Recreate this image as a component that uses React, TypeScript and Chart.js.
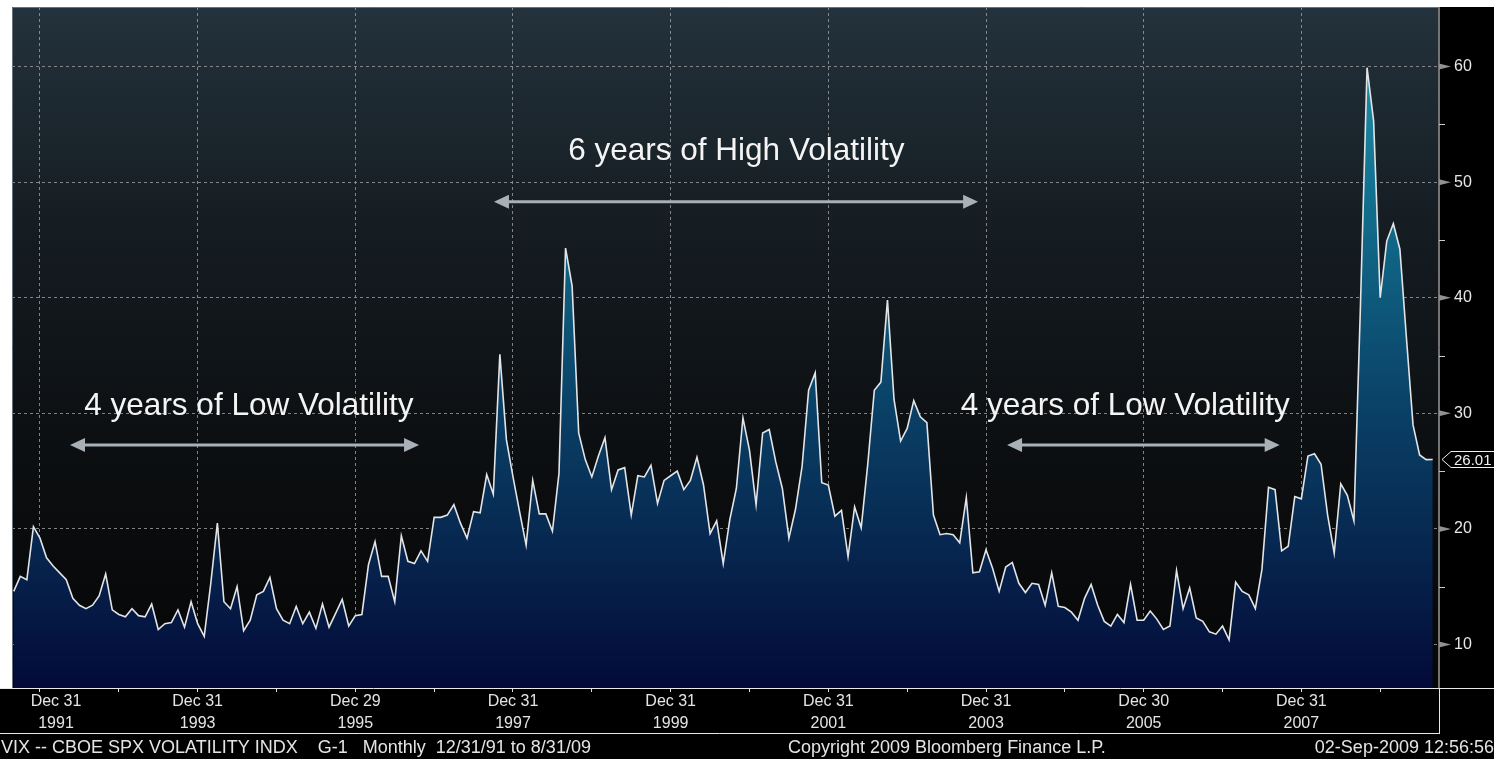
import React, { useEffect, useRef } from "react";
import { Chart, registerables } from "chart.js";

Chart.register(...registerables);

// Monthly VIX closes, Aug 1991 .. Aug 2009 (index 0 = Aug 1991)
const vix1991: number[] = [14.6, 15.9, 15.6, 20.2, 19.2];
const vix1992: number[] = [17.5, 16.8, 16.2, 15.6, 14.0, 13.4, 13.1, 13.4, 14.2, 16.1, 13.0, 12.6];
const vix1993: number[] = [12.4, 13.1, 12.5, 12.4, 13.5, 11.3, 11.8, 11.9, 13.0, 11.5, 13.7, 11.8];
const vix1994: number[] = [10.7, 15.3, 20.5, 13.7, 13.1, 15.0, 11.2, 12.1, 14.3, 14.6, 15.8, 13.1];
const vix1995: number[] = [12.1, 11.8, 13.3, 11.8, 12.8, 11.4, 13.5, 11.5, 12.7, 13.9, 11.6, 12.5];
const vix1996: number[] = [12.6, 16.9, 18.9, 15.9, 15.9, 13.7, 19.4, 17.2, 17.0, 18.1, 17.2, 21.0];
const vix1997: number[] = [21.0, 21.2, 22.1, 20.5, 19.2, 21.5, 21.4, 24.7, 23.0, 35.1, 27.7, 24.5];
const vix1998: number[] = [21.5, 18.6, 24.2, 21.3, 21.3, 19.8, 24.8, 44.3, 41.0, 28.3, 26.0, 24.5];
const vix1999: number[] = [26.3, 27.9, 23.4, 25.1, 25.3, 21.2, 24.6, 24.5, 25.5, 22.2, 24.2, 24.6];
const vix2000: number[] = [25.0, 23.4, 24.2, 26.2, 23.8, 19.6, 20.7, 17.0, 20.8, 23.5, 29.6, 26.8];
const vix2001: number[] = [22.1, 28.3, 28.6, 25.8, 23.5, 19.2, 21.7, 25.4, 32.0, 33.5, 24.0, 23.8];
const vix2002: number[] = [21.1, 21.6, 17.6, 21.9, 20.1, 25.6, 32.0, 32.7, 39.8, 31.2, 27.6, 28.7];
const vix2003: number[] = [31.1, 29.7, 29.2, 21.2, 19.5, 19.6, 19.5, 18.8, 22.7, 16.2, 16.3, 18.2];
const vix2004: number[] = [16.6, 14.6, 16.7, 17.1, 15.3, 14.5, 15.3, 15.2, 13.4, 16.2, 13.3, 13.2];
const vix2005: number[] = [12.8, 12.1, 14.0, 15.2, 13.4, 12.0, 11.6, 12.6, 11.9, 15.2, 12.1, 12.1];
const vix2006: number[] = [12.9, 12.2, 11.3, 11.6, 16.4, 13.1, 14.9, 12.3, 12.0, 11.1, 10.9, 11.6];
const vix2007: number[] = [10.4, 15.4, 14.6, 14.3, 13.1, 16.5, 23.6, 23.4, 18.1, 18.5, 22.8, 22.6];
const vix2008: number[] = [26.3, 26.5, 25.6, 21.2, 17.9, 23.9, 22.9, 20.7, 39.4, 59.9, 55.3, 40.0];
const vix2009: number[] = [44.9, 46.4, 44.2, 36.5, 29.0, 26.4, 26.0, 26.01];

const vixSeries: number[] = [
  ...vix1991, ...vix1992, ...vix1993, ...vix1994, ...vix1995, ...vix1996,
  ...vix1997, ...vix1998, ...vix1999, ...vix2000, ...vix2001, ...vix2002,
  ...vix2003, ...vix2004, ...vix2005, ...vix2006, ...vix2007, ...vix2008, ...vix2009,
];
const lastValueLabel = "26.01";

// x axis: month index of each year-end tick, and the labelled ones
const xYearTicks: number[] = [4, 16, 28, 40, 52, 64, 76, 88, 100, 112, 124, 136, 148, 160, 172, 184, 196, 208];
const xLabelTicks: number[] = [4, 28, 52, 76, 100, 124, 148, 172, 196];
const xLabelDay: string[] = ["Dec 31", "Dec 31", "Dec 29", "Dec 31", "Dec 31", "Dec 31", "Dec 31", "Dec 30", "Dec 31"];
const xLabelYear: string[] = ["1991", "1993", "1995", "1997", "1999", "2001", "2003", "2005", "2007"];

// y axis
const yMajorTicks: number[] = [10, 20, 30, 40, 50, 60];
const yMinorTicks: number[] = [15, 25, 35, 45, 55];

// annotations (data coordinates: month index, VIX level)
const noteTexts: string[] = ["6 years of High Volatility", "4 years of Low Volatility", "4 years of Low Volatility"];
const noteX: number[] = [110.0, 35.8, 169.2];
const noteY: number[] = [51.9, 29.86, 29.86];
const arrowFromX: number[] = [73.1, 8.57, 151.2];
const arrowToX: number[] = [146.8, 61.7, 192.7];
const arrowAtY: number[] = [48.3, 27.27, 27.27];

const footerLeft = "VIX -- CBOE SPX VOLATILITY INDX    G-1   Monthly  12/31/91 to 8/31/09";
const footerCopy = "Copyright 2009 Bloomberg Finance L.P.";
const footerStamp = "02-Sep-2009 12:56:56";

const FONT = '"Liberation Sans", Arial, sans-serif';

const backgroundPlugin = {
  id: "bbBackground",
  beforeDraw(chart: any) {
    const { ctx, chartArea: a, width, height } = chart;
    ctx.save();
    ctx.fillStyle = "#000";
    ctx.fillRect(0, 0, width, height);
    ctx.fillStyle = "#fff";
    ctx.fillRect(0, 0, width, a.top);
    ctx.fillRect(0, 0, a.left, a.bottom);
    const g = ctx.createLinearGradient(0, a.top, 0, a.bottom);
    g.addColorStop(0, "#23323c");
    g.addColorStop(0.35, "#141b20");
    g.addColorStop(0.7, "#0b0d0f");
    g.addColorStop(1, "#060606");
    ctx.fillStyle = g;
    ctx.fillRect(a.left, a.top, a.right - a.left, a.bottom - a.top);
    ctx.restore();
  },
};

const overlayPlugin = {
  id: "bbOverlay",
  afterDraw(chart: any) {
    const { ctx, chartArea: a, width, height } = chart;
    const xs = chart.scales.x;
    const ys = chart.scales.y;
    ctx.save();

    // plot borders
    ctx.strokeStyle = "#65727c";
    ctx.lineWidth = 1;
    ctx.beginPath();
    ctx.moveTo(a.left + 0.5, a.bottom);
    ctx.lineTo(a.left + 0.5, a.top + 0.5);
    ctx.lineTo(a.right, a.top + 0.5);
    ctx.stroke();

    ctx.strokeStyle = "#e8e8e8";
    ctx.beginPath();
    ctx.moveTo(a.right + 1, a.top);
    ctx.lineTo(a.right + 1, a.bottom);
    ctx.stroke();

    // label band borders
    const bandBottom = a.bottom + 45;
    ctx.beginPath();
    ctx.moveTo(0, a.bottom + 0.5);
    ctx.lineTo(width, a.bottom + 0.5);
    ctx.moveTo(0, bandBottom + 0.5);
    ctx.lineTo(a.right + 1.5, bandBottom + 0.5);
    ctx.moveTo(a.right + 1.5, a.bottom);
    ctx.lineTo(a.right + 1.5, bandBottom + 1);
    ctx.stroke();

    // right axis: major pointer ticks and minor ticks
    ctx.fillStyle = "#8e9296";
    yMajorTicks.forEach((v) => {
      const y = ys.getPixelForValue(v);
      ctx.beginPath();
      ctx.moveTo(a.right + 1, y - 3);
      ctx.lineTo(a.right + 13, y);
      ctx.lineTo(a.right + 1, y + 3);
      ctx.closePath();
      ctx.fill();
    });
    ctx.strokeStyle = "#c8c8c8";
    yMinorTicks.forEach((v) => {
      const y = Math.round(ys.getPixelForValue(v)) + 0.5;
      ctx.beginPath();
      ctx.moveTo(a.right + 1, y);
      ctx.lineTo(a.right + 7, y);
      ctx.stroke();
    });

    // last value box
    const lv = vixSeries[vixSeries.length - 1];
    const ly = Math.round(ys.getPixelForValue(lv)) + 0.5;
    ctx.beginPath();
    ctx.moveTo(a.right + 4, ly);
    ctx.lineTo(a.right + 13, ly - 8);
    ctx.lineTo(width + 2, ly - 8);
    ctx.lineTo(width + 2, ly + 8);
    ctx.lineTo(a.right + 13, ly + 8);
    ctx.closePath();
    ctx.fillStyle = "#000";
    ctx.fill();
    ctx.strokeStyle = "#f0f0f0";
    ctx.stroke();
    ctx.fillStyle = "#f0f0f0";
    ctx.font = `15px ${FONT}`;
    ctx.textBaseline = "middle";
    ctx.textAlign = "left";
    ctx.fillText(lastValueLabel, a.right + 16, ly + 1);

    // x labels
    ctx.fillStyle = "#e4e4e4";
    ctx.font = `16px ${FONT}`;
    ctx.textAlign = "center";
    ctx.textBaseline = "alphabetic";
    xLabelTicks.forEach((t, i) => {
      let cx = xs.getPixelForValue(t);
      cx = Math.max(cx, a.left + 44);
      ctx.fillText(xLabelDay[i], cx, a.bottom + 18);
      ctx.fillText(xLabelYear[i], cx, a.bottom + 40);
    });

    // annotations
    ctx.strokeStyle = "#a9b1b8";
    ctx.fillStyle = "#a9b1b8";
    ctx.lineWidth = 3;
    arrowFromX.forEach((fx, i) => {
      const x1 = xs.getPixelForValue(fx);
      const x2 = xs.getPixelForValue(arrowToX[i]);
      const y = ys.getPixelForValue(arrowAtY[i]);
      ctx.beginPath();
      ctx.moveTo(x1 + 10, y);
      ctx.lineTo(x2 - 10, y);
      ctx.stroke();
      ctx.beginPath();
      ctx.moveTo(x1, y);
      ctx.lineTo(x1 + 15, y - 7);
      ctx.lineTo(x1 + 15, y + 7);
      ctx.closePath();
      ctx.fill();
      ctx.beginPath();
      ctx.moveTo(x2, y);
      ctx.lineTo(x2 - 15, y - 7);
      ctx.lineTo(x2 - 15, y + 7);
      ctx.closePath();
      ctx.fill();
    });
    ctx.fillStyle = "#f4f4f4";
    ctx.font = `31.5px ${FONT}`;
    ctx.textAlign = "center";
    ctx.textBaseline = "alphabetic";
    noteTexts.forEach((t, i) => {
      ctx.fillText(t, xs.getPixelForValue(noteX[i]), ys.getPixelForValue(noteY[i]));
    });

    // footer
    ctx.fillStyle = "#e4e4e4";
    ctx.font = `18px ${FONT}`;
    ctx.textAlign = "left";
    const fy = height - 6;
    ctx.fillText(footerLeft, 1, fy);
    ctx.fillText(footerCopy, 788, fy);
    ctx.textAlign = "right";
    ctx.fillText(footerStamp, width, fy);

    ctx.restore();
  },
};

export default function App() {
  const canvasRef = useRef<HTMLCanvasElement | null>(null);

  useEffect(() => {
    document.body.style.margin = "0";
    document.body.style.background = "#000";
    const canvas = canvasRef.current;
    if (!canvas) return;

    const points = vixSeries.map((v, i) => ({ x: i, y: v }));

    const chart = new Chart(canvas, {
      type: "line",
      data: {
        datasets: [
          {
            data: points,
            borderColor: "#e2e4e6",
            borderWidth: 1.6,
            pointRadius: 0,
            tension: 0,
            fill: "start",
            backgroundColor: (c: any) => {
              const { chart: ch } = c;
              const area = ch.chartArea;
              if (!area) return "#08264a";
              const g = ch.ctx.createLinearGradient(0, area.top, 0, area.bottom);
              g.addColorStop(0, "#2aa3b8");
              g.addColorStop(0.09, "#1f8ca3");
              g.addColorStop(0.26, "#137291");
              g.addColorStop(0.43, "#0e597b");
              g.addColorStop(0.6, "#0a3f65");
              g.addColorStop(0.77, "#072a52");
              g.addColorStop(0.94, "#04123f");
              g.addColorStop(1, "#030a38");
              return g;
            },
          },
        ],
      },
      options: {
        animation: false,
        responsive: false,
        maintainAspectRatio: false,
        devicePixelRatio: 1,
        layout: { padding: { top: 7, left: 12, right: 0, bottom: 26 } },
        plugins: {
          legend: { display: false },
          tooltip: { enabled: false },
        },
        scales: {
          x: {
            type: "linear",
            position: "bottom",
            min: -0.26,
            max: 216.8,
            z: 1,
            afterBuildTicks: (s: any) => {
              s.ticks = xYearTicks.map((v) => ({ value: v }));
            },
            afterFit: (s: any) => {
              s.height = 45;
              s.paddingLeft = 0;
              s.paddingRight = 0;
            },
            ticks: { display: false, autoSkip: false },
            grid: {
              color: (c: any) =>
                c.tick && xLabelTicks.includes(c.tick.value) ? "rgba(150,150,150,0.85)" : "rgba(0,0,0,0)",
              tickColor: "#e0e0e0",
              tickLength: 4,
              drawTicks: true,
              lineWidth: 1,
            },
            border: { display: false, dash: [3, 3] },
          },
          y: {
            type: "linear",
            position: "right",
            min: 6.24,
            max: 65.15,
            z: 1,
            afterBuildTicks: (s: any) => {
              s.ticks = yMajorTicks.map((v) => ({ value: v }));
            },
            afterFit: (s: any) => {
              s.width = 56;
              s.paddingTop = 0;
              s.paddingBottom = 0;
            },
            ticks: {
              color: "#e6e6e6",
              font: { family: FONT, size: 16 },
              padding: 16,
            },
            grid: {
              color: "rgba(150,150,150,0.85)",
              drawTicks: false,
              lineWidth: 1,
            },
            border: { display: false, dash: [3, 3] },
          },
        },
      },
      plugins: [backgroundPlugin, overlayPlugin],
    } as any);

    return () => chart.destroy();
  }, []);

  return (
    <div style={{ width: 1494, height: 759, position: "relative" }}>
      <canvas ref={canvasRef} width={1494} height={759} style={{ display: "block" }} />
    </div>
  );
}
